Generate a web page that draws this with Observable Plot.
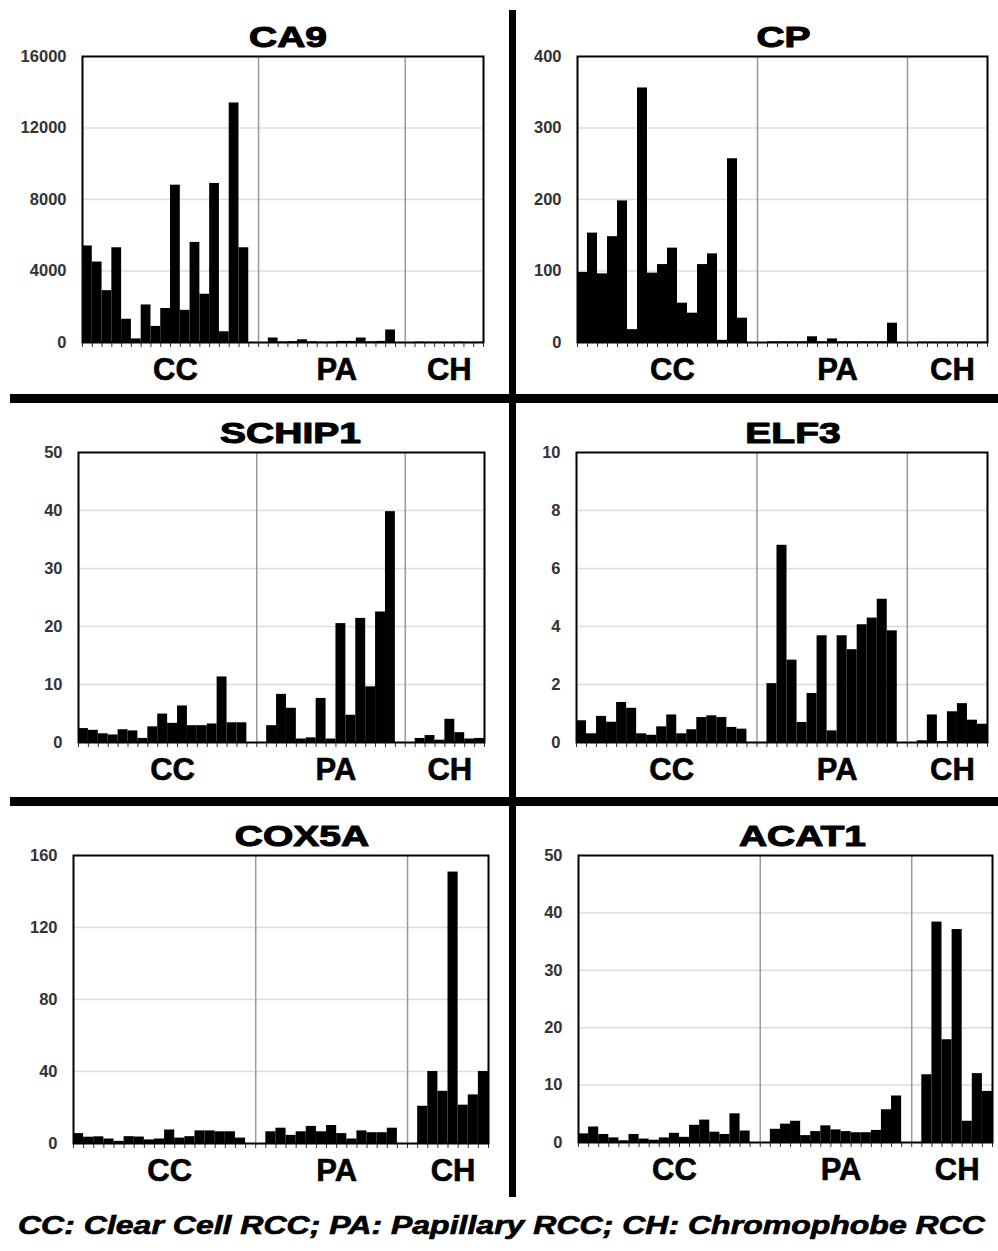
<!DOCTYPE html>
<html><head><meta charset="utf-8">
<script src="https://cdn.jsdelivr.net/npm/d3@7"></script>
<script src="https://cdn.jsdelivr.net/npm/@observablehq/plot@0.6"></script>
<style>
html,body{margin:0;padding:0;background:#fff;}
#root{position:relative;width:998px;height:1251px;overflow:hidden;background:#fff;font-family:"Liberation Sans",Arial,sans-serif;}
.panel{position:absolute;}
.thick{position:absolute;background:#000;z-index:5;}
#caption{position:absolute;left:18px;top:1212px;font:italic bold 26px "Liberation Sans",Arial,sans-serif;white-space:nowrap;transform-origin:0 0;color:#000;line-height:1;-webkit-text-stroke:0.7px #000;}
</style></head><body><div id="root"></div>
<script>
// ---- data ----
const genes = ["CA9", "CP", "SCHIP1", "ELF3", "COX5A", "ACAT1"];
const groups = ["CC", "PA", "CH"];
const captionText = "CC: Clear Cell RCC; PA: Papillary RCC; CH: Chromophobe RCC";

const ca9CC = [5400, 4500, 2900, 5300, 1300, 200, 2100, 900, 1900, 8800, 1800, 5600, 2700, 8900, 600, 13400, 5300];
const ca9PA = [250, 30, 50, 150, 40, 20, 30, 60, 60, 250, 40, 60, 700];
const ca9CH = [20, 10, 15, 10, 20, 10, 15];
const ca9Ticks = [0, 4000, 8000, 12000, 16000];

const cpCC = [98, 153, 96, 148, 198, 18, 356, 97, 109, 132, 55, 41, 109, 124, 3, 257, 34];
const cpPA = [1, 1, 1, 1, 8, 1, 5, 1, 1, 1, 1, 1, 27];
const cpCH = [0.5, 0.5, 0.5, 0.5, 0.5, 0.5, 0.5];
const cpTicks = [0, 100, 200, 300, 400];

const schip1CC = [2.4, 2.1, 1.5, 1.3, 2.2, 2.0, 0.7, 2.7, 4.9, 3.3, 6.3, 2.9, 2.9, 3.2, 11.3, 3.4, 3.4];
const schip1PA = [2.9, 8.3, 5.9, 0.6, 0.8, 7.6, 0.6, 20.5, 4.7, 21.4, 9.6, 22.5, 39.8];
const schip1CH = [0.7, 1.2, 0.4, 4.0, 1.7, 0.6, 0.7];
const schip1Ticks = [0, 10, 20, 30, 40, 50];

const elf3CC = [0.75, 0.3, 0.9, 0.7, 1.38, 1.18, 0.3, 0.25, 0.54, 0.95, 0.3, 0.44, 0.86, 0.92, 0.86, 0.52, 0.46];
const elf3PA = [2.03, 6.8, 2.84, 0.69, 1.69, 3.68, 0.4, 3.68, 3.2, 4.06, 4.29, 4.94, 3.85];
const elf3CH = [0.06, 0.95, 0.03, 1.06, 1.34, 0.77, 0.63];
const elf3Ticks = [0, 2, 4, 6, 8, 10];

const cox5aCC = [5.5, 3.5, 3.7, 2.5, 1.2, 3.8, 3.6, 2.0, 2.5, 7.5, 3.0, 3.8, 7.0, 7.0, 6.5, 6.5, 3.0];
const cox5aPA = [6.5, 8.5, 4.5, 6.5, 9.5, 6.5, 10.0, 5.5, 2.5, 7.0, 6.0, 6.0, 8.5];
const cox5aCH = [20.7, 40, 29, 150.8, 21.3, 27, 40];
const cox5aTicks = [0, 40, 80, 120, 160];

const acat1CC = [1.5, 2.7, 1.4, 0.8, 0.3, 1.4, 0.6, 0.4, 0.8, 1.6, 0.9, 3.0, 3.9, 1.8, 1.4, 5.0, 2.0];
const acat1PA = [2.3, 3.2, 3.7, 1.2, 1.9, 2.9, 2.2, 1.9, 1.7, 1.7, 2.1, 5.7, 8.1];
const acat1CH = [11.8, 38.4, 17.9, 37.1, 3.7, 12, 8.9];
const acat1Ticks = [0, 10, 20, 30, 40, 50];

const seriesByGene = [
  [ca9CC, ca9PA, ca9CH], [cpCC, cpPA, cpCH], [schip1CC, schip1PA, schip1CH],
  [elf3CC, elf3PA, elf3CH], [cox5aCC, cox5aPA, cox5aCH], [acat1CC, acat1PA, acat1CH]
];
const ticksByGene = [ca9Ticks, cpTicks, schip1Ticks, elf3Ticks, cox5aTicks, acat1Ticks];

// ---- layout (page pixel frame boxes) ----
const layout = [
  {L: 82, R: 483, T: 56, B: 342, dx: 5},
  {L: 577, R: 987, T: 56, B: 342, dx: 1},
  {L: 78, R: 484, T: 452, B: 742, dx: 9},
  {L: 576, R: 987, T: 452, B: 742, dx: 11},
  {L: 73, R: 488, T: 855, B: 1143, dx: 21},
  {L: 578, R: 992, T: 855, B: 1142, dx: 17}
];
const ml = 75, mr = 10, mt = 55, mb = 50;
const root = document.getElementById("root");

function build(values) {
  const bars = [], dividers = [], labels = [];
  let pos = 0, start = 0;
  values.forEach((arr, gi) => {
    if (gi > 0) {
      pos += 1;
      dividers.push(pos);
      labels.push({g: groups[gi - 1], x: (start + pos) / 2});
      start = pos;
      pos += 1;
    }
    arr.forEach(v => { bars.push({i: pos, v, g: groups[gi]}); pos += 1; });
  });
  labels.push({g: groups[groups.length - 1], x: (start + pos) / 2});
  return {bars, dividers, labels, n: pos};
}

function stretchText(svg, words, k) {
  svg.querySelectorAll("text").forEach(t => {
    if (!words.includes(t.textContent)) return;
    const x = +t.getAttribute("x") || 0, y = +t.getAttribute("y") || 0;
    t.removeAttribute("x"); t.removeAttribute("y");
    const tr = t.getAttribute("transform") || "";
    t.setAttribute("transform", `${tr} translate(${x},${y}) scale(${k},1)`);
  });
}

genes.forEach((gene, gi) => {
  const lay = layout[gi];
  const ticks = ticksByGene[gi];
  const {bars, dividers, labels, n} = build(seriesByGene[gi]);
  const width = lay.R - lay.L + ml + mr;
  const height = lay.B - lay.T + mt + mb;
  const svg = Plot.plot({
    width, height,
    marginLeft: ml, marginRight: mr, marginTop: mt, marginBottom: mb,
    style: {background: "transparent", overflow: "visible", fontFamily: "'Liberation Sans', Arial, sans-serif",
            fontSize: "16.5px", fontWeight: "bold", color: "#333"},
    x: {domain: [0, n], ticks: d3.range(0, n + 1), tickFormat: () => "", tickSize: 5, tickPadding: 0, label: null},
    y: {domain: [0, d3.max(ticks)], ticks: ticks, tickFormat: d3.format("d"), tickSize: 0, tickPadding: 16, label: null},
    marks: [
      Plot.ruleY(ticks.slice(1, -1), {stroke: "#dcdcdc", strokeWidth: 1.5}),
      Plot.ruleX(dividers, {stroke: "#9a9a9a", strokeWidth: 1.5}),
      Plot.rectY(bars, {x1: "i", x2: d => d.i + 1, y: "v", fill: "#000"}),
      Plot.frame({stroke: "#000", strokeWidth: 2}),
      Plot.text(labels, {x: d => d.x + 0.5, text: "g", frameAnchor: "bottom", lineAnchor: "bottom", dy: 37,
                         fontSize: 31, fontWeight: "bold", fill: "#000", stroke: "#000", strokeWidth: 0.6}),
      Plot.text([gene], {text: d => d, frameAnchor: "top", lineAnchor: "bottom", dy: -10, dx: lay.dx,
                         fontSize: 30, fontWeight: "bold", fill: "#000", stroke: "#000", strokeWidth: 1.1})
    ]
  });
  stretchText(svg, [gene], 1.3);
  const div = document.createElement("div");
  div.className = "panel";
  div.style.left = (lay.L - ml) + "px";
  div.style.top = (lay.T - mt) + "px";
  div.style.width = width + "px";
  div.appendChild(svg);
  root.appendChild(div);
});

// thick separators
[[509, 10, 7, 1187], [10, 394, 988, 9], [10, 797, 988, 9]].forEach(([x, y, w, h]) => {
  const d = document.createElement("div");
  d.className = "thick";
  Object.assign(d.style, {left: x + "px", top: y + "px", width: w + "px", height: h + "px"});
  root.appendChild(d);
});

const cap = document.createElement("div");
cap.id = "caption";
cap.textContent = captionText;
root.appendChild(cap);
const w = cap.getBoundingClientRect().width;
cap.style.transform = `scaleX(${967 / w})`;
</script></body></html>
